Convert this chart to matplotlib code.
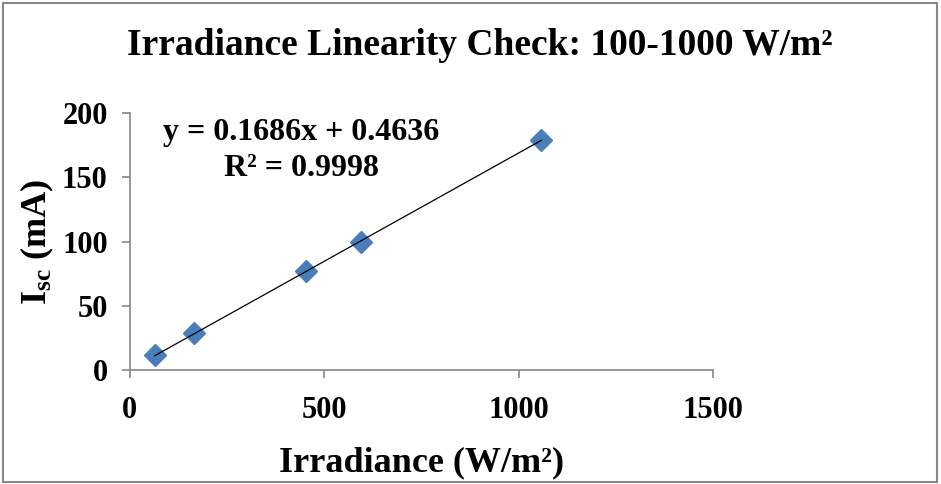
import numpy as np
import matplotlib
matplotlib.use("Agg")
import matplotlib.pyplot as plt
from matplotlib.patches import Rectangle

# irradiance (W/m2) and short-circuit current (mA)
irradiance = [64, 165, 453, 595, 1058]
isc = [11.3, 28.5, 76.8, 99.5, 179.3]

x_ticks = [0, 500, 1000, 1500]
y_ticks = [0, 50, 100, 150, 200]

plt.rcParams['font.family'] = 'Liberation Serif'
plt.rcParams['font.weight'] = 'bold'
plt.rcParams['mathtext.fontset'] = 'custom'
plt.rcParams['mathtext.rm'] = 'Liberation Serif:bold'
plt.rcParams['mathtext.bf'] = 'Liberation Serif:bold'
plt.rcParams['mathtext.it'] = 'Liberation Serif:bold:italic'


def paint():
    fig = plt.figure(figsize=(9.41, 4.84), dpi=100)
    ax = fig.add_axes([0.138, 0.2355, 0.620, 0.531])

    ax.plot(irradiance, isc, 'D', color='#4a7ebb', markersize=11, zorder=3)

    # linear trendline over the data range
    slope, intercept = np.polyfit(irradiance, isc, 1)
    xx = np.array([min(irradiance), max(irradiance)])
    ax.plot(xx, slope * xx + intercept, color='black', lw=0.9, zorder=4)

    ax.set_xlim(0, 1500)
    ax.set_ylim(0, 200)
    ax.set_xticks(x_ticks)
    ax.set_yticks(y_ticks)
    ax.tick_params(axis='both', labelsize=22, color='#868686', length=6, width=1.2)
    ax.tick_params(axis='x', pad=13)
    ax.tick_params(axis='y', pad=10)
    for lab in ax.get_xticklabels() + ax.get_yticklabels():
        lab.set_fontweight('bold')

    for side in ['top', 'right']:
        ax.spines[side].set_visible(False)
    for side in ['left', 'bottom']:
        ax.spines[side].set_color('#868686')
        ax.spines[side].set_linewidth(1.2)

    ax.set_xlabel('Irradiance (W/m²)', fontsize=26, fontweight='bold', labelpad=15)
    ax.set_ylabel(r'I$_{\rm sc}$ (mA)', fontsize=26, fontweight='bold', labelpad=4)

    fig.text(0.51, 0.907, 'Irradiance Linearity Check: 100-1000 W/m²',
             ha='center', va='center', fontsize=27, fontweight='bold')

    ax.text(0.294, 0.925, 'y = 0.1686x + 0.4636', transform=ax.transAxes,
            ha='center', va='center', fontsize=23, fontweight='bold')
    ax.text(0.294, 0.785, 'R² = 0.9998', transform=ax.transAxes,
            ha='center', va='center', fontsize=23, fontweight='bold')

    # chart area border
    fig.patches.append(Rectangle((0.003, 0.005), 0.993, 0.989, transform=fig.transFigure,
                                 fill=False, edgecolor='#888888', lw=1.5))

    fig.savefig('out.png', dpi=100)


if __name__ == '__main__':
    paint()
